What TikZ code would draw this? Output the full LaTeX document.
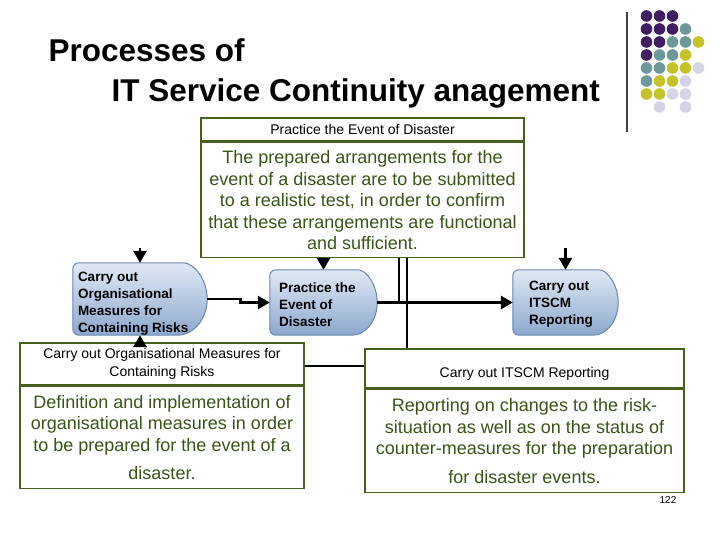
\documentclass[tikz,border=0pt]{standalone}
\usepackage{fontspec}
\setmainfont{Liberation Sans}
\usetikzlibrary{arrows.meta,calc,backgrounds,positioning}

\definecolor{boxgreen}{RGB}{72,96,30}
\definecolor{textgreen}{RGB}{58,84,24}
\definecolor{procTop}{RGB}{224,233,245}
\definecolor{procBot}{RGB}{140,168,205}
\definecolor{procLine}{RGB}{105,135,175}
\definecolor{dotPurple}{RGB}{64,30,98}
\definecolor{dotTeal}{RGB}{108,152,156}
\definecolor{dotYellow}{RGB}{198,194,42}
\definecolor{dotLilac}{RGB}{212,212,230}

\tikzset{
  hdr/.style={draw=boxgreen,line width=1.6pt,align=center,inner sep=0pt,
    font=\fontsize{14}{18}\selectfont},
  bodybox/.style={draw=boxgreen,line width=1.6pt,align=center,inner sep=0pt,
    text=textgreen,font=\fontsize{18}{21.5}\selectfont},
  proc/.style={inner sep=0pt},
  proctext/.style={anchor=west,align=left,inner sep=0pt,font=\bfseries\fontsize{13.5}{17}\selectfont},
  proc fill/.style={top color=procTop,bottom color=procBot,draw=procLine,line width=1pt},
  flow/.style={line width=2.8pt,-{Triangle[length=12pt,width=13pt]}},
  conn/.style={line width=2.8pt}
}

% #1 node name, #2 depth of the round end
\newcommand{\procshape}[2]{%
  \shade[proc fill] ([xshift=-#2pt]#1.south east) [rounded corners=6pt]
    -- (#1.south west) -- (#1.north west) -- ([xshift=-#2pt]#1.north east) [sharp corners]
    .. controls ($([xshift=-#2pt]#1.north east)!0.55!(#1.north east)$) and ($(#1.east)!0.55!(#1.north east)$) .. (#1.east)
    .. controls ($(#1.east)!0.55!(#1.south east)$) and ($([xshift=-#2pt]#1.south east)!0.55!(#1.south east)$) .. ([xshift=-#2pt]#1.south east)
    -- cycle;}

\begin{document}
\begin{tikzpicture}[x=1pt,y=-1pt]
\useasboundingbox (0,0) rectangle (720,540);

% title
\node[anchor=base west,font=\bfseries\fontsize{31.5}{36}\selectfont] (title1) at (45,62) {Processes of};
\node[anchor=base west,font=\bfseries\fontsize{31.5}{36}\selectfont] (title2) at (108,102) {IT Service Continuity anagement};

\draw[line width=1.2pt,black!75] (627,12) -- (627,132);
\foreach \c/\r/\clr in {0/0/dotPurple,1/0/dotPurple,2/0/dotPurple,
  0/1/dotPurple,1/1/dotPurple,2/1/dotPurple,3/1/dotTeal,
  0/2/dotPurple,1/2/dotPurple,2/2/dotTeal,3/2/dotTeal,4/2/dotYellow,
  0/3/dotPurple,1/3/dotTeal,2/3/dotTeal,3/3/dotYellow,
  0/4/dotTeal,1/4/dotTeal,2/4/dotYellow,3/4/dotYellow,4/4/dotLilac,
  0/5/dotTeal,1/5/dotYellow,2/5/dotYellow,3/5/dotLilac,
  0/6/dotYellow,1/6/dotYellow,2/6/dotLilac,3/6/dotLilac,
  1/7/dotLilac,3/7/dotLilac}
  \fill[\clr] (646.5+13*\c,16+13*\r) circle (5.8pt);

% description boxes
\node[hdr,minimum width=323,minimum height=23] (hdrT) at (362.5,129.5) {Practice the Event of Disaster};
\node[bodybox,minimum width=323,minimum height=115,below=0pt of hdrT] (bodyT)
  {The prepared arrangements for the\\ event of a disaster are to be submitted\\ to a realistic test, in order to confirm\\ that these arrangements are functional\\ and sufficient.};

\node[hdr,minimum width=284,minimum height=42] (hdrL) at (162,364) {Carry out Organisational Measures for\\ Containing Risks};
\node[bodybox,minimum width=284,minimum height=102,below=0pt of hdrL] (bodyL)
  {Definition and implementation of\\ organisational measures in order\\ to be prepared for the event of a\\[7pt] disaster.};

\node[hdr,minimum width=319,minimum height=39,text height=18pt,text depth=0pt] (hdrR) at (524.5,368.5) {Carry out ITSCM Reporting};
\node[bodybox,minimum width=319,minimum height=103,below=0pt of hdrR] (bodyR)
  {Reporting on changes to the risk-\\ situation as well as on the status of\\ counter-measures for the preparation\\[7pt] for disaster events.};

% process steps
\node[proc,minimum width=134,minimum height=72] (p1) at (140,299) {};
\node[proc,minimum width=107,minimum height=65] (p2) at (323.5,302.5) {};
\node[proc,minimum width=105,minimum height=65] (p3) at (565.5,302.5) {};
\begin{scope}[on background layer]
  \procshape{p1}{30}
  \procshape{p2}{25}
  \procshape{p3}{25}
\end{scope}
\node[proctext] (p1text) at ([xshift=5pt,yshift=-4.5pt]p1.west) {Carry out\\ Organisational\\ Measures for\\ Containing Risks};
\node[proctext] (p2text) at ([xshift=9pt,yshift=-2pt]p2.west) {Practice the\\ Event of\\ Disaster};
\node[proctext] (p3text) at ([xshift=16pt,yshift=-2pt]p3.west) {Carry out\\ ITSCM\\ Reporting};

% connectors
\coordinate (in1) at (140,248);
\coordinate (in3) at (565.5,248);
\coordinate (j1) at (399,302.5);
\coordinate (j2) at (407,0);
\coordinate (h) at (0,366);
\draw[flow] (in1) -- (p1.north);
\draw[flow] (in3) -- (p3.north);
\draw[flow] (p2.north |- bodyT.south) -- (p2.north);
\draw[flow] (p1.south |- hdrL.north) -- (p1.south);
\draw[flow] (p1.east) -- ++(33,0) |- (p2.west);
\draw[flow] (p2.east) -- (p3.west);
\draw[conn] (j1 |- bodyT.south) -- (j1);
\draw[conn] (j2 |- bodyT.south) -- (j2 |- hdrR.north);
\draw[conn] (h -| hdrL.east) -- (h -| hdrR.west);

\node[font=\fontsize{10}{12}\selectfont] (page) at (668,500) {122};
\end{tikzpicture}
\end{document}
